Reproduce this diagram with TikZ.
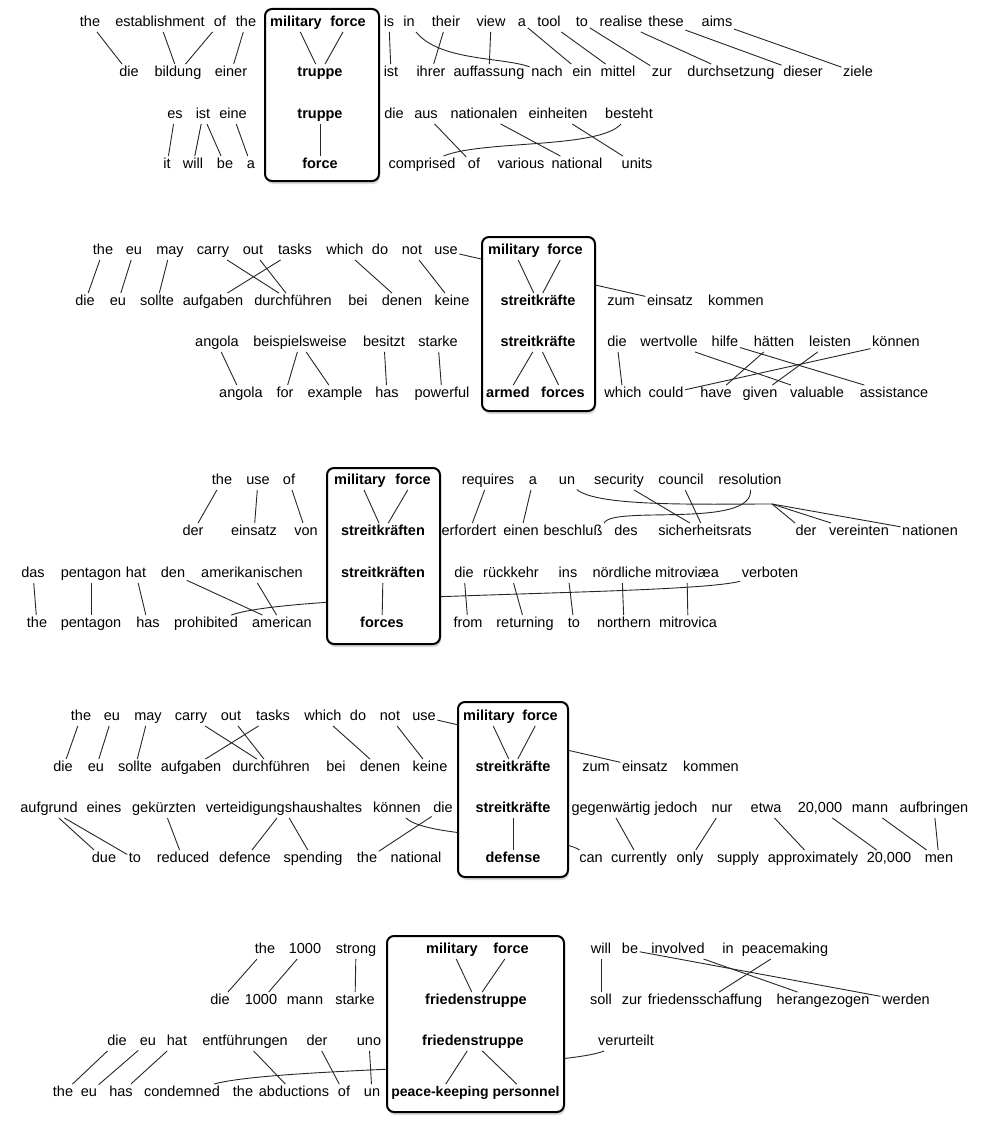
\documentclass[tikz,border=0pt]{standalone}
\usepackage{fontspec}
\setmainfont{Liberation Sans}
\usetikzlibrary{shadows}
\pgfdeclarelayer{background}
\pgfsetlayers{background,main}

\begin{document}
\begin{tikzpicture}[
    x=1pt, y=-1pt,
    every node/.style={font=\fontsize{14.5}{17}\selectfont},
    word/.style={
        inner xsep=1.5pt,
        inner ysep=2pt,
        text height=10.5pt,
        text depth=3pt
    },
    head/.style={word, font=\fontsize{14.5}{17}\selectfont\bfseries},
    narrowhead/.style={word, font=\fontsize{14}{17}\selectfont\bfseries},
    phrase/.style={
        draw,
        line width=2pt,
        rounded corners=7pt,
        fill=white,
        drop shadow={shadow xshift=1pt, shadow yshift=-3pt, opacity=0.3}
    },
    link/.style={line width=0.9pt, black!85}
]

    \useasboundingbox (0,0) rectangle (986,1132);

    % ===== Block 1: truppe =====
    \node[phrase, minimum width=114pt, minimum height=172pt] (box1) at (322,95) {};

    % english
    \node[word] (b1a-the) at (90,23) {the};
    \node[word] (b1a-establishment) at (160,23) {establishment};
    \node[word] (b1a-of) at (220,23) {of};
    \node[word] (b1a-the2) at (246,23) {the};
    \node[head] (b1a-military) at (296,23) {military};
    \node[head] (b1a-force) at (348,23) {force};
    \node[word] (b1a-is) at (389,23) {is};
    \node[word] (b1a-in) at (409,23) {in};
    \node[word] (b1a-their) at (446,23) {their};
    \node[word] (b1a-view) at (491,23) {view};
    \node[word] (b1a-a) at (522,23) {a};
    \node[word] (b1a-tool) at (549,23) {tool};
    \node[word] (b1a-to) at (582,23) {to};
    \node[word] (b1a-realise) at (621,23) {realise};
    \node[word] (b1a-these) at (666,23) {these};
    \node[word] (b1a-aims) at (717,23) {aims};

    % german
    \node[word] (b1b-die) at (129,73) {die};
    \node[word] (b1b-bildung) at (178,73) {bildung};
    \node[word] (b1b-einer) at (231,73) {einer};
    \node[head] (b1b-truppe) at (320,73) {truppe};
    \node[word] (b1b-ist) at (391,73) {ist};
    \node[word] (b1b-ihrer) at (431,73) {ihrer};
    \node[word] (b1b-auffassung) at (489,73) {auffassung};
    \node[word] (b1b-nach) at (547,73) {nach};
    \node[word] (b1b-ein) at (582,73) {ein};
    \node[word] (b1b-mittel) at (618,73) {mittel};
    \node[word] (b1b-zur) at (662,73) {zur};
    \node[word] (b1b-durchsetzung) at (731,73) {durchsetzung};
    \node[word] (b1b-dieser) at (803,73) {dieser};
    \node[word] (b1b-ziele) at (858,73) {ziele};

    % german
    \node[word] (b1c-es) at (175,115) {es};
    \node[word] (b1c-ist) at (203,115) {ist};
    \node[word] (b1c-eine) at (233,115) {eine};
    \node[head] (b1c-truppe) at (320,115) {truppe};
    \node[word] (b1c-die) at (394,115) {die};
    \node[word] (b1c-aus) at (426,115) {aus};
    \node[word] (b1c-nationalen) at (484,115) {nationalen};
    \node[word] (b1c-einheiten) at (558,115) {einheiten};
    \node[word] (b1c-besteht) at (629,115) {besteht};

    % english
    \node[word] (b1d-it) at (167,165) {it};
    \node[word] (b1d-will) at (193,165) {will};
    \node[word] (b1d-be) at (225,165) {be};
    \node[word] (b1d-a) at (251,165) {a};
    \node[head] (b1d-force) at (320,165) {force};
    \node[word] (b1d-comprised) at (422,165) {comprised};
    \node[word] (b1d-of) at (474,165) {of};
    \node[word] (b1d-various) at (521,165) {various};
    \node[word] (b1d-national) at (577,165) {national};
    \node[word] (b1d-units) at (637,165) {units};

    % alignments
    \draw[link] (b1a-the) -- (b1b-die);
    \draw[link] (b1a-establishment) -- (b1b-bildung);
    \draw[link] (b1a-of) -- (b1b-bildung);
    \draw[link] (b1a-the2) -- (b1b-einer);
    \draw[link] (b1a-military) -- (b1b-truppe);
    \draw[link] (b1a-force) -- (b1b-truppe);
    \draw[link] (b1a-is) -- (b1b-ist);
    \draw[link] (b1a-in) .. controls +(30,38) and +(-45,-16) .. (b1b-nach);
    \draw[link] (b1a-their) -- (b1b-ihrer);
    \draw[link] (b1a-view) -- (b1b-auffassung);
    \draw[link] (b1a-a) -- (b1b-ein);
    \draw[link] (b1a-tool) -- (b1b-mittel);
    \draw[link] (b1a-to) -- (b1b-zur);
    \draw[link] (b1a-realise) -- (b1b-durchsetzung);
    \draw[link] (b1a-these) -- (b1b-dieser);
    \draw[link] (b1a-aims) -- (b1b-ziele);

    \draw[link] (b1c-es) -- (b1d-it);
    \draw[link] (b1c-ist) -- (b1d-will);
    \draw[link] (b1c-ist) -- (b1d-be);
    \draw[link] (b1c-eine) -- (b1d-a);
    \draw[link] (b1c-truppe) -- (b1d-force);
    \draw[link] (b1c-aus) -- (b1d-of);
    \draw[link] (b1c-nationalen) -- (b1d-national);
    \draw[link] (b1c-einheiten) -- (b1d-units);
    \draw[link] (b1c-besteht) .. controls +(-30,34) and +(60,-25) .. (b1d-comprised);

    % ===== Block 2: streitkräfte =====
    \node[phrase, minimum width=113pt, minimum height=174pt] (box2) at (538.5,324) {};

    % english
    \node[word] (b2a-the) at (103,251) {the};
    \node[word] (b2a-eu) at (134,251) {eu};
    \node[word] (b2a-may) at (170,251) {may};
    \node[word] (b2a-carry) at (213,251) {carry};
    \node[word] (b2a-out) at (253,251) {out};
    \node[word] (b2a-tasks) at (295,251) {tasks};
    \node[word] (b2a-which) at (345,251) {which};
    \node[word] (b2a-do) at (380,251) {do};
    \node[word] (b2a-not) at (412,251) {not};
    \node[word] (b2a-use) at (446,251) {use};
    \node[head] (b2a-military) at (514,251) {military};
    \node[head] (b2a-force) at (565,251) {force};

    % german
    \node[word] (b2b-die) at (85,302) {die};
    \node[word] (b2b-eu) at (118,302) {eu};
    \node[word] (b2b-sollte) at (157,302) {sollte};
    \node[word] (b2b-aufgaben) at (213,302) {aufgaben};
    \node[word] (b2b-durchfuehren) at (293,302) {durchführen};
    \node[word] (b2b-bei) at (358,302) {bei};
    \node[word] (b2b-denen) at (402,302) {denen};
    \node[word] (b2b-keine) at (452,302) {keine};
    \node[head] (b2b-streitkraefte) at (538,302) {streitkräfte};
    \node[word] (b2b-zum) at (621,302) {zum};
    \node[word] (b2b-einsatz) at (670,302) {einsatz};
    \node[word] (b2b-kommen) at (736,302) {kommen};

    % german
    \node[word] (b2c-angola) at (217,343) {angola};
    \node[word] (b2c-beispielsweise) at (300,343) {beispielsweise};
    \node[word] (b2c-besitzt) at (384,343) {besitzt};
    \node[word] (b2c-starke) at (438,343) {starke};
    \node[head] (b2c-streitkraefte) at (538,343) {streitkräfte};
    \node[word] (b2c-die) at (617,343) {die};
    \node[word] (b2c-wertvolle) at (669,343) {wertvolle};
    \node[word] (b2c-hilfe) at (725,343) {hilfe};
    \node[word] (b2c-haetten) at (774,343) {hätten};
    \node[word] (b2c-leisten) at (830,343) {leisten};
    \node[word] (b2c-koennen) at (896,343) {können};

    % english
    \node[word] (b2d-angola) at (241,394) {angola};
    \node[word] (b2d-for) at (285,394) {for};
    \node[word] (b2d-example) at (335,394) {example};
    \node[word] (b2d-has) at (387,394) {has};
    \node[word] (b2d-powerful) at (442,394) {powerful};
    \node[head] (b2d-armed) at (508,394) {armed};
    \node[head] (b2d-forces) at (563,394) {forces};
    \node[word] (b2d-which) at (623,394) {which};
    \node[word] (b2d-could) at (666,394) {could};
    \node[word] (b2d-have) at (716,394) {have};
    \node[word] (b2d-given) at (760,394) {given};
    \node[word] (b2d-valuable) at (817,394) {valuable};
    \node[word] (b2d-assistance) at (894,394) {assistance};

    % alignments
    \draw[link] (b2a-the) -- (b2b-die);
    \draw[link] (b2a-eu) -- (b2b-eu);
    \draw[link] (b2a-may) -- (b2b-sollte);
    \draw[link] (b2a-carry) -- (b2b-durchfuehren);
    \draw[link] (b2a-out) -- (b2b-durchfuehren);
    \draw[link] (b2a-tasks) -- (b2b-aufgaben);
    \draw[link] (b2a-which) -- (b2b-denen);
    \draw[link] (b2a-not) -- (b2b-keine);
    \draw[link] (b2a-military) -- (b2b-streitkraefte);
    \draw[link] (b2a-force) -- (b2b-streitkraefte);

    \draw[link] (b2c-angola) -- (b2d-angola);
    \draw[link] (b2c-beispielsweise) -- (b2d-for);
    \draw[link] (b2c-beispielsweise) -- (b2d-example);
    \draw[link] (b2c-besitzt) -- (b2d-has);
    \draw[link] (b2c-starke) -- (b2d-powerful);
    \draw[link] (b2c-streitkraefte) -- (b2d-armed);
    \draw[link] (b2c-streitkraefte) -- (b2d-forces);
    \draw[link] (b2c-die) -- (b2d-which);
    \draw[link] (b2c-wertvolle) -- (b2d-valuable);
    \draw[link] (b2c-hilfe) -- (b2d-assistance);
    \draw[link] (b2c-haetten) -- (b2d-have);
    \draw[link] (b2c-leisten) -- (b2d-given);
    \draw[link] (b2c-koennen) -- (b2d-could);

    % ===== Block 3: streitkräften =====
    \node[phrase, minimum width=113pt, minimum height=176pt] (box3) at (383.5,556) {};

    % english
    \node[word] (b3a-the) at (222,481) {the};
    \node[word] (b3a-use) at (258,481) {use};
    \node[word] (b3a-of) at (289,481) {of};
    \node[head] (b3a-military) at (360,481) {military};
    \node[head] (b3a-force) at (413,481) {force};
    \node[word] (b3a-requires) at (488,481) {requires};
    \node[word] (b3a-a) at (533,481) {a};
    \node[word] (b3a-un) at (567,481) {un};
    \node[word] (b3a-security) at (619,481) {security};
    \node[word] (b3a-council) at (681,481) {council};
    \node[word] (b3a-resolution) at (750,481) {resolution};

    % german
    \node[word] (b3b-der) at (193,532) {der};
    \node[word] (b3b-einsatz) at (254,532) {einsatz};
    \node[word] (b3b-von) at (306,532) {von};
    \node[head] (b3b-streitkraeften) at (383,532) {streitkräften};
    \node[word] (b3b-erfordert) at (469,532) {erfordert};
    \node[word] (b3b-einen) at (521,532) {einen};
    \node[word] (b3b-beschluss) at (573,532) {beschluß};
    \node[word] (b3b-des) at (626,532) {des};
    \node[word] (b3b-sicherheitsrats) at (705,532) {sicherheitsrats};
    \node[word] (b3b-der2) at (806,532) {der};
    \node[word] (b3b-vereinten) at (859,532) {vereinten};
    \node[word] (b3b-nationen) at (930,532) {nationen};

    % german
    \node[word] (b3c-das) at (33,574) {das};
    \node[word] (b3c-pentagon) at (91,574) {pentagon};
    \node[word] (b3c-hat) at (136,574) {hat};
    \node[word] (b3c-den) at (173,574) {den};
    \node[word] (b3c-amerikanischen) at (252,574) {amerikanischen};
    \node[head] (b3c-streitkraeften) at (383,574) {streitkräften};
    \node[word] (b3c-die) at (464,574) {die};
    \node[word] (b3c-rueckkehr) at (511,574) {rückkehr};
    \node[word] (b3c-ins) at (568,574) {ins};
    \node[word] (b3c-noerdliche) at (622,574) {nördliche};
    \node[word] (b3c-mitroviaea) at (687,574) {mitroviæa};
    \node[word] (b3c-verboten) at (770,574) {verboten};

    % english
    \node[word] (b3d-the) at (37,624) {the};
    \node[word] (b3d-pentagon) at (91,624) {pentagon};
    \node[word] (b3d-has) at (148,624) {has};
    \node[word] (b3d-prohibited) at (206,624) {prohibited};
    \node[word] (b3d-american) at (282,624) {american};
    \node[head] (b3d-forces) at (382,624) {forces};
    \node[word] (b3d-from) at (468,624) {from};
    \node[word] (b3d-returning) at (525,624) {returning};
    \node[word] (b3d-to) at (574,624) {to};
    \node[word] (b3d-northern) at (624,624) {northern};
    \node[word] (b3d-mitrovica) at (688,624) {mitrovica};

    % alignments
    \draw[link] (b3a-the) -- (b3b-der);
    \draw[link] (b3a-use) -- (b3b-einsatz);
    \draw[link] (b3a-of) -- (b3b-von);
    \draw[link] (b3a-military) -- (b3b-streitkraeften);
    \draw[link] (b3a-force) -- (b3b-streitkraeften);
    \draw[link] (b3a-requires) -- (b3b-erfordert);
    \draw[link] (b3a-a) -- (b3b-einen);
    \draw[link] (b3a-security) -- (b3b-sicherheitsrats);
    \draw[link] (b3a-council) -- (b3b-sicherheitsrats);
    \draw[link] (b3a-resolution) .. controls +(3,48) and +(8,-18) .. (b3b-beschluss.north east);
    \coordinate (b3fork) at (772,504);
    \draw[link] (b3a-un) .. controls +(30,26) and +(-70,0) .. (b3fork);
    \draw[link] (b3fork) -- (b3b-der2);
    \draw[link] (b3fork) -- (b3b-vereinten);
    \draw[link] (b3fork) -- (b3b-nationen);

    \draw[link] (b3c-das) -- (b3d-the);
    \draw[link] (b3c-pentagon) -- (b3d-pentagon);
    \draw[link] (b3c-hat) -- (b3d-has);
    \draw[link] (b3c-den) -- (b3d-american);
    \draw[link] (b3c-amerikanischen) -- (b3d-american);
    \draw[link] (b3c-streitkraeften) -- (b3d-forces);
    \draw[link] (b3c-die) -- (b3d-from);
    \draw[link] (b3c-rueckkehr) -- (b3d-returning);
    \draw[link] (b3c-ins) -- (b3d-to);
    \draw[link] (b3c-noerdliche) -- (b3d-northern);
    \draw[link] (b3c-mitroviaea) -- (b3d-mitrovica);

    % ===== Block 4: streitkräfte / defense =====
    \node[phrase, minimum width=110pt, minimum height=175pt] (box4) at (513,789.5) {};

    % english
    \node[word] (b4a-the) at (81,717) {the};
    \node[word] (b4a-eu) at (112,717) {eu};
    \node[word] (b4a-may) at (148,717) {may};
    \node[word] (b4a-carry) at (191,717) {carry};
    \node[word] (b4a-out) at (231,717) {out};
    \node[word] (b4a-tasks) at (273,717) {tasks};
    \node[word] (b4a-which) at (323,717) {which};
    \node[word] (b4a-do) at (358,717) {do};
    \node[word] (b4a-not) at (390,717) {not};
    \node[word] (b4a-use) at (424,717) {use};
    \node[head] (b4a-military) at (489,717) {military};
    \node[head] (b4a-force) at (540,717) {force};

    % german
    \node[word] (b4b-die) at (63,768) {die};
    \node[word] (b4b-eu) at (96,768) {eu};
    \node[word] (b4b-sollte) at (135,768) {sollte};
    \node[word] (b4b-aufgaben) at (191,768) {aufgaben};
    \node[word] (b4b-durchfuehren) at (271,768) {durchführen};
    \node[word] (b4b-bei) at (336,768) {bei};
    \node[word] (b4b-denen) at (380,768) {denen};
    \node[word] (b4b-keine) at (430,768) {keine};
    \node[head] (b4b-streitkraefte) at (513,768) {streitkräfte};
    \node[word] (b4b-zum) at (596,768) {zum};
    \node[word] (b4b-einsatz) at (645,768) {einsatz};
    \node[word] (b4b-kommen) at (711,768) {kommen};

    % german
    \node[word] (b4c-aufgrund) at (49,809) {aufgrund};
    \node[word] (b4c-eines) at (104,809) {eines};
    \node[word] (b4c-gekuerzten) at (164,809) {gekürzten};
    \node[word] (b4c-verteidigungshaushaltes) at (284,809) {verteidigungshaushaltes};
    \node[word] (b4c-koennen) at (397,809) {können};
    \node[word] (b4c-die) at (443,809) {die};
    \node[head] (b4c-streitkraefte) at (513,809) {streitkräfte};
    \node[word] (b4c-gegenwaertig) at (611,809) {gegenwärtig};
    \node[word] (b4c-jedoch) at (676,809) {jedoch};
    \node[word] (b4c-nur) at (722,809) {nur};
    \node[word] (b4c-etwa) at (766,809) {etwa};
    \node[word] (b4c-twenty) at (820,809) {20,000};
    \node[word] (b4c-mann) at (870,809) {mann};
    \node[word] (b4c-aufbringen) at (934,809) {aufbringen};

    % english
    \node[word] (b4d-due) at (104,859) {due};
    \node[word] (b4d-to) at (135,859) {to};
    \node[word] (b4d-reduced) at (183,859) {reduced};
    \node[word] (b4d-defence) at (245,859) {defence};
    \node[word] (b4d-spending) at (313,859) {spending};
    \node[word] (b4d-the) at (367,859) {the};
    \node[word] (b4d-national) at (416,859) {national};
    \node[head] (b4d-defense) at (513,859) {defense};
    \node[word] (b4d-can) at (591,859) {can};
    \node[word] (b4d-currently) at (639,859) {currently};
    \node[word] (b4d-only) at (690,859) {only};
    \node[word] (b4d-supply) at (738,859) {supply};
    \node[word] (b4d-approximately) at (813,859) {approximately};
    \node[word] (b4d-twenty) at (889,859) {20,000};
    \node[word] (b4d-men) at (939,859) {men};

    % alignments
    \draw[link] (b4a-the) -- (b4b-die);
    \draw[link] (b4a-eu) -- (b4b-eu);
    \draw[link] (b4a-may) -- (b4b-sollte);
    \draw[link] (b4a-carry) -- (b4b-durchfuehren);
    \draw[link] (b4a-out) -- (b4b-durchfuehren);
    \draw[link] (b4a-tasks) -- (b4b-aufgaben);
    \draw[link] (b4a-which) -- (b4b-denen);
    \draw[link] (b4a-not) -- (b4b-keine);
    \draw[link] (b4a-military) -- (b4b-streitkraefte);
    \draw[link] (b4a-force) -- (b4b-streitkraefte);

    \draw[link] (b4c-aufgrund) -- (b4d-due);
    \draw[link] (b4c-aufgrund) -- (b4d-to);
    \draw[link] (b4c-gekuerzten) -- (b4d-reduced);
    \draw[link] (b4c-verteidigungshaushaltes) -- (b4d-defence);
    \draw[link] (b4c-verteidigungshaushaltes) -- (b4d-spending);
    \draw[link] (b4c-die) -- (b4d-the);
    \draw[link] (b4c-streitkraefte) -- (b4d-defense);
    \draw[link] (b4c-gegenwaertig) -- (b4d-currently);
    \draw[link] (b4c-nur) -- (b4d-only);
    \draw[link] (b4c-etwa) -- (b4d-approximately);
    \draw[link] (b4c-twenty) -- (b4d-twenty);
    \draw[link] (b4c-mann) -- (b4d-men);
    \draw[link] (b4c-aufbringen) -- (b4d-men);

    % ===== Block 5: friedenstruppe =====
    \node[phrase, minimum width=177pt, minimum height=176pt] (box5) at (475.5,1024) {};

    % english
    \node[word] (b5a-the) at (265,950) {the};
    \node[word] (b5a-thousand) at (305,950) {1000};
    \node[word] (b5a-strong) at (356,950) {strong};
    \node[head] (b5a-military) at (452,950) {military};
    \node[head] (b5a-force) at (511,950) {force};
    \node[word] (b5a-will) at (601,950) {will};
    \node[word] (b5a-be) at (630,950) {be};
    \node[word] (b5a-involved) at (678,950) {involved};
    \node[word] (b5a-in) at (728,950) {in};
    \node[word] (b5a-peacemaking) at (785,950) {peacemaking};

    % german
    \node[word] (b5b-die) at (220,1001) {die};
    \node[word] (b5b-thousand) at (261,1001) {1000};
    \node[word] (b5b-mann) at (305,1001) {mann};
    \node[word] (b5b-starke) at (355,1001) {starke};
    \node[head] (b5b-friedenstruppe) at (476,1001) {friedenstruppe};
    \node[word] (b5b-soll) at (601,1001) {soll};
    \node[word] (b5b-zur) at (632,1001) {zur};
    \node[word] (b5b-friedensschaffung) at (705,1001) {friedensschaffung};
    \node[word] (b5b-herangezogen) at (823,1001) {herangezogen};
    \node[word] (b5b-werden) at (906,1001) {werden};

    % german
    \node[word] (b5c-die) at (117,1042) {die};
    \node[word] (b5c-eu) at (148,1042) {eu};
    \node[word] (b5c-hat) at (177,1042) {hat};
    \node[word] (b5c-entfuehrungen) at (245,1042) {entführungen};
    \node[word] (b5c-der) at (317,1042) {der};
    \node[word] (b5c-uno) at (369,1042) {uno};
    \node[head] (b5c-friedenstruppe) at (473,1042) {friedenstruppe};
    \node[word] (b5c-verurteilt) at (626,1042) {verurteilt};

    % english
    \node[word] (b5d-the) at (63,1093) {the};
    \node[word] (b5d-eu) at (89,1093) {eu};
    \node[word] (b5d-has) at (121,1093) {has};
    \node[word] (b5d-condemned) at (182,1093) {condemned};
    \node[word] (b5d-the2) at (243,1093) {the};
    \node[word] (b5d-abductions) at (294,1093) {abductions};
    \node[word] (b5d-of) at (344,1093) {of};
    \node[word] (b5d-un) at (372,1093) {un};
    \node[narrowhead] (b5d-peacekeeping) at (440,1093) {peace-keeping};
    \node[narrowhead] (b5d-personnel) at (526,1093) {personnel};

    % alignments
    \draw[link] (b5a-the) -- (b5b-die);
    \draw[link] (b5a-thousand) -- (b5b-thousand);
    \draw[link] (b5a-strong) -- (b5b-starke);
    \draw[link] (b5a-military) -- (b5b-friedenstruppe);
    \draw[link] (b5a-force) -- (b5b-friedenstruppe);
    \draw[link] (b5a-will) -- (b5b-soll);
    \draw[link] (b5a-be) -- (b5b-werden);
    \draw[link] (b5a-involved) -- (b5b-herangezogen);
    \draw[link] (b5a-peacemaking) -- (b5b-friedensschaffung);

    \draw[link] (b5c-die) -- (b5d-the);
    \draw[link] (b5c-eu) -- (b5d-eu);
    \draw[link] (b5c-hat) -- (b5d-has);
    \draw[link] (b5c-entfuehrungen) -- (b5d-abductions);
    \draw[link] (b5c-der) -- (b5d-of);
    \draw[link] (b5c-uno) -- (b5d-un);
    \draw[link] (b5c-friedenstruppe) -- (b5d-peacekeeping);
    \draw[link] (b5c-friedenstruppe) -- (b5d-personnel);

    % links that run behind the boxes
    \begin{pgfonlayer}{background}
        \draw[link] (b2a-use) -- (b2b-einsatz);
        \draw[link] (b3d-prohibited) .. controls +(90,-32) and +(-90,22) .. (b3c-verboten);
        \draw[link] (b4a-use) -- (b4b-einsatz);
        \draw[link] (b4c-koennen) .. controls +(30,30) and +(-31,-24) .. (b4d-can);
        \draw[link] (b5c-verurteilt) .. controls +(-66,27) and +(93,-26) .. (b5d-condemned);
    \end{pgfonlayer}

\end{tikzpicture}
\end{document}
